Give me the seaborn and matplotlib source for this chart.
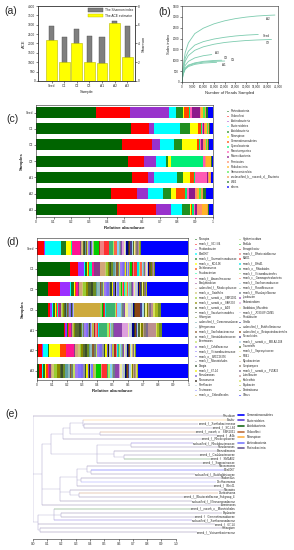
import numpy as np
import pandas as pd
import matplotlib
matplotlib.use("Agg")
import matplotlib.pyplot as plt
from matplotlib.patches import Patch
from matplotlib.lines import Line2D
import matplotlib.ticker as mticker
import seaborn as sns

# ---------------- data ----------------
samples = ["Seed", "O1", "O2", "O3", "A1", "A2", "A3"]

# (a) alpha diversity
ace = [2190, 995, 2010, 1010, 945, 3075, 1260]
shannon = [5.87, 4.66, 5.55, 4.80, 4.66, 6.36, 5.83]

# (b) rarefaction curves
rare_labels = ["A2", "Seed", "O2", "A3", "O3", "O1", "A1"]
reads_a2 = [0, 500, 1500, 3000, 6000, 10000, 15000, 20000, 25000, 30000, 35000, 40000, 43500]
sobs_a2 = [0, 700, 1350, 1800, 2230, 2480, 2680, 2820, 2920, 2990, 3040, 3070, 3085]
reads_seed = [0, 500, 1500, 3000, 6000, 10000, 15000, 20000, 25000, 30000, 35700]
sobs_seed = [0, 600, 1100, 1420, 1700, 1860, 1980, 2060, 2120, 2160, 2190]
reads_o2 = [0, 500, 1500, 3000, 6000, 10000, 15000, 20000, 25000, 30000, 35000, 41900]
sobs_o2 = [0, 520, 950, 1220, 1460, 1620, 1740, 1820, 1870, 1910, 1935, 1958]
reads_a3 = [0, 500, 1500, 3000, 6000, 10000, 13900]
sobs_a3 = [0, 430, 760, 950, 1110, 1210, 1264]
reads_o3 = [0, 500, 1500, 3000, 6000, 10000, 15000, 18600]
sobs_o3 = [0, 380, 640, 780, 880, 950, 990, 1002]
reads_o1 = [0, 500, 1500, 3000, 6000, 10000, 15000, 20000]
sobs_o1 = [0, 360, 610, 750, 850, 915, 950, 965]
reads_a1 = [0, 500, 1500, 3000, 6000, 10000, 16200]
sobs_a1 = [0, 340, 580, 710, 810, 870, 905]

# (c) phylum level
phyla = ["Proteobacteria", "Chloroflexi", "Actinobacteria", "Bacteroidetes", "Acidobacteria",
         "Nitrospirae", "Gemmatimonadetes", "Cyanobacteria", "Planctomycetes", "Patescibacteria",
         "Firmicutes", "Rokubacteria", "Verrucomicrobia", "unclassified_k__norank_d__Bacteria",
         "WS2", "others"]
c_seed = [0.34, 0.19, 0.225, 0.035, 0.04, 0.005, 0.03, 0.005, 0.01, 0.045, 0.01, 0.01, 0.01, 0.005, 0.01, 0.03]
c_o1 = [0.538, 0.104, 0.028, 0.145, 0.057, 0.042, 0.02, 0.005, 0.008, 0.005, 0.005, 0.01, 0.005, 0.005, 0.008, 0.015]
c_o2 = [0.489, 0.166, 0.047, 0.079, 0.043, 0.089, 0.008, 0.004, 0.008, 0.01, 0.01, 0.01, 0.004, 0.004, 0.01, 0.019]
c_o3 = [0.519, 0.092, 0.066, 0.058, 0.013, 0.013, 0.003, 0.18, 0.01, 0.004, 0.005, 0.025, 0.002, 0.002, 0.002, 0.006]
c_a1 = [0.542, 0.089, 0.034, 0.132, 0.032, 0.043, 0.019, 0.01, 0.066, 0.005, 0.005, 0.005, 0.003, 0.003, 0.002, 0.01]
c_a2 = [0.425, 0.145, 0.062, 0.085, 0.049, 0.026, 0.053, 0.008, 0.015, 0.03, 0.012, 0.012, 0.01, 0.01, 0.02, 0.038]
c_a3 = [0.46, 0.219, 0.083, 0.062, 0.047, 0.006, 0.006, 0.008, 0.01, 0.01, 0.025, 0.03, 0.003, 0.003, 0.008, 0.02]
phylum_colors = ["#006400", "#ff0000", "#9932cc", "#00ffff", "#1f8f1f", "#ffff00", "#ff4500", "#00ee76",
                 "#ff5ab4", "#8b1a8b", "#ff8c69", "#ffb428", "#4cee4c", "#ee9a49", "#237a23", "#0000ff"]

# (d) genus level (percent)
genera = [
    "Nitrospira", "norank_f__SC-I-84", "Rhodanobacter", "Ellin6067", "norank_f__Gemmatimonadaceae",
    "norank_c__KD4-96", "Dechloromonas", "Flavobacterium", "norank_f__Anaerolineaceae", "Bradyrhizobium",
    "unclassified_f__Rhodocyclaceae", "norank_o__Gaiellales", "norank_f__norank_o__SBR1031",
    "norank_f__norank_o__SAR202", "norank_f__norank_o__AD3", "norank_f__Saccharimonadales", "Haliangium",
    "unclassified_f__Comamonadaceae", "Sphingomonas", "norank_f__Xanthobacteraceae",
    "norank_f__Steroidobacteraceae", "Arenimonas", "norank_f__Caldilineaceae",
    "norank_f__Vicinamibacteraceae", "norank_o__IMCC26256", "norank_f__Microtrichales", "Dongia",
    "norank_f__67-14", "Pseudomonas", "Nitrosomonas", "Ramlibacter", "Terrimonas", "norank_o__Chloroflexales",
    "Hyphomicrobium", "Pirellula", "Ferruginibacter", "norank_f__Blastocatellaceae", "MND1",
    "norank_f__BIrii41", "norank_o__Rhizobiales", "norank_f__Vicinamibacterales", "norank_c__Gammaproteobacteria",
    "norank_f__Xanthomonadaceae", "norank_f__Roseiflexaceae", "norank_f__Rhodospirillaceae", "Lysobacter",
    "Pedomicrobium", "Candidatus_Microthrix", "norank_f__JG30-KF-CM45", "Rhodobacter", "Gaiella",
    "unclassified_f__Burkholderiaceae", "unclassified_o__Betaproteobacteriales", "Nocardioides",
    "norank_f__norank_c__MB-A2-108", "Turneriella", "norank_f__Saprospiraceae", "RB41", "Mycobacterium",
    "Streptomyces", "norank_f__norank_o__PLTA13", "Luteolibacter", "Kouleothrix", "Bryobacter",
    "Denitratisoma", "Others"]
d_seed = [0, 4.5, 0.5, 11, 3, 3, 0.5, 0.3, 5, 1,
          0.5, 0.5, 0.3, 0.3, 0.2, 0.5, 0.3, 0.5, 0.3, 0.5,
          0.3, 0.3, 0.5, 0.3, 0.3, 0.3, 0.5, 0.3, 0.3, 0.2,
          0.3, 0.3, 0.3,
          0.5, 3, 1, 2.5, 3, 0.5, 2, 1, 2, 1,
          1, 0.5, 1, 1, 0.5, 0.5, 0.5, 1, 0.5, 1,
          1, 1, 0.5, 0.5, 0.5, 0.5, 0.5, 0.5, 0.5, 0.5, 0.5, 0.5,
          31]
d_o1 = [22, 5, 4, 0.5, 1.5, 0.5, 1, 2, 1.5, 4,
        3, 1, 1, 0.5, 0.5, 1, 1, 1.5, 1, 1,
        0.5, 1, 1, 1, 0.5, 0.5, 0.5, 0.5, 0.5, 0.3,
        0.5, 0.5, 0.5,
        0.5, 1, 0.5, 1, 2, 1, 0.5, 0.5, 1, 1,
        0.5, 0.5, 0.5, 0.5, 0.5, 0.5, 0.3, 0.3, 0.3, 0.3,
        0.3, 0.3, 0.3, 0.3, 0.3, 0.3, 0.3, 0.3, 0.3, 0.3, 0.3, 0.3,
        22]
d_o2 = [7.5, 7.5, 7, 0.5, 2, 0.5, 0.5, 0.5, 1, 1,
        1.5, 1, 2, 1.5, 2, 1, 2, 1, 1.5, 1,
        1, 1, 1, 1, 1, 1, 1, 1, 1, 0.5,
        1, 1, 0.5,
        1, 0.5, 0.5, 0.5, 0.5, 0.5, 0.5, 1, 0.5, 1,
        1, 1, 0.5, 0.5, 1, 1, 1, 0.3, 0.5, 0.5,
        0.3, 0.5, 0.5, 0.5, 0.5, 0.5, 0.5, 0.3, 0.3, 0.3, 0.3, 0.3,
        27]
d_o3 = [7, 1.5, 1.5, 0.3, 1.5, 1, 0.5, 0.5, 0.5, 1.5,
        0.3, 0.5, 0.5, 1, 0.5, 0.3, 0.5, 0.3, 0.3, 0.5,
        0.5, 0.3, 0.3, 0.3, 0.3, 0.5, 0.3, 0.3, 0.3, 0.3,
        0.3, 0.3, 17,
        1.5, 0.5, 0.5, 0.5, 0.5, 0.5, 6, 1, 0.5, 2.5,
        1, 1, 0.5, 0.5, 2, 2, 1, 0.5, 1, 3,
        1.5, 1.5, 0.5, 1, 1, 0.5, 1, 0.5, 1, 1.5, 2, 2,
        18]
d_a1 = [18, 0.5, 1, 0.3, 0.5, 0.3, 0.3, 0.3, 1.5, 0.5,
        0.3, 0.5, 0.5, 0.5, 3, 1, 0.5, 0.3, 0.3, 0.5,
        0.3, 0.3, 1, 0.5, 1, 0.5, 0.5, 0.3, 0.5, 0.3,
        0.3, 0.5, 0.3,
        0.5, 0.5, 0.5, 1, 1, 0.5, 5.5, 1, 0.5, 1,
        1, 1, 5, 4, 1, 1, 1, 1, 1, 0.5,
        0.5, 1, 1, 1, 1, 1, 1, 1.5, 5, 1, 1.5, 2,
        17]
d_a2 = [0.5, 3, 0.5, 3, 1, 7, 4, 0.5, 5, 1,
        1.5, 1.5, 1, 1, 1.5, 1.5, 1, 1, 1, 1.5,
        1, 1, 1, 1, 1, 1.5, 1, 1, 1, 0.5,
        1, 1, 0.5,
        0.5, 0.5, 1, 0.5, 0.5, 0.5, 0.5, 0.5, 0.5, 0.5,
        0.5, 0.5, 0.5, 0.5, 0.5, 0.5, 0.5, 1, 0.5, 0.5,
        0.5, 0.5, 0.3, 0.3, 0.3, 0.3, 0.3, 0.3, 0.3, 0.3, 0.3, 0.3,
        35]
d_a3 = [1, 2, 0.5, 0.5, 1.5, 0.5, 1, 0.5, 0.5, 1,
        1, 1.5, 2, 1.5, 1, 1, 1.5, 2, 1, 1,
        1, 1.5, 2, 2, 1.5, 1, 1, 1, 1, 0.5,
        1, 1, 1,
        1, 3, 0.5, 0.5, 3, 0.5, 0.5, 1, 0.5, 1,
        1, 1, 3, 0.5, 1, 1, 1, 1, 0.5, 1,
        0.5, 1, 0.5, 0.5, 0.5, 0.5, 0.5, 0.5, 0.5, 0.5, 0.5, 0.5,
        33]
genus_colors = [
    "#006400", "#ff0000", "#9b30ff", "#00ffff", "#1e7b1e", "#ffff00", "#ff4500", "#00fa9a", "#ff1493", "#8b3a8b",
    "#d2a679", "#cdc673", "#9acd32", "#8b8b00", "#556b2f", "#3b4d2b", "#6b8e23", "#5f9ea0", "#8fbcbc", "#8b5a2b",
    "#708070", "#c0e060", "#9f79ee", "#836fff", "#7b68ee", "#9090a8", "#2f4f2f", "#eeee00", "#6a5acd", "#2b1d0e",
    "#b0c4de", "#7a7aff", "#cdaa3d",
    "#a2cd5a", "#00cd00", "#b22222", "#f08080", "#ff3030", "#00e5ee", "#3cb371", "#a0ee60", "#ff6347", "#87cefa",
    "#8fbc8f", "#6c7b8b", "#8e44ad", "#dda0dd", "#eeeea0", "#c6c6ee", "#b4c8b4", "#00008b", "#2f3b1f", "#8b4513",
    "#483d8b", "#a4d3ee", "#556b2f", "#eeee88", "#808000", "#c4a484", "#8b7d6b", "#7d6b8d", "#bc8f8f", "#d4e157",
    "#a8b820", "#6b8e23", "#0000ff"]

# (e) tree: [node distance, children...], leaves are indices into tree_leaves
tree_leaves = [
    "Rhizobium", "Ensifer", "norank_f__Xanthobacteraceae", "norank_f__SC-I-84", "norank_f__norank_o__SBR1031",
    "norank_f__A4b", "norank_f__Rhodocyclaceae", "unclassified_f__Rhodobacteraceae", "Pseudomonas",
    "Brevundimonas", "norank_f__Caulobacteraceae", "norank_f__SM1A02", "norank_f__Saprospiraceae",
    "Nitrosomonas", "Ellin6067", "unclassified_f__Burkholderiaceae", "Thiobacillus", "Dechloromonas",
    "norank_f__BIrii41", "Nitrospira", "Denitratisoma", "norank_f__Blastocatellaceae_Subgroup_4",
    "unclassified_f__Nitrosomonadaceae", "Arenimonas", "norank_f__norank_o__Microtrichales", "Bryobacter",
    "norank_f__Gemmatimonadaceae", "unclassified_f__Xanthomonadaceae", "norank_f__67-14", "Haliangium",
    "norank_f__Vicinamibacteraceae"]
tree = [0.0,
        0,
        [0.065,
         [0.13,
          [0.21,
           [0.26, [0.35, 1, [0.36, 2, 3]], [0.47, 4, 5]],
           6],
          [0.45, [0.69, 7, 8], [0.57, 9, [0.64, 10, 11]], 12]],
         [0.19,
          [0.31, [0.38, 13, [0.41, 14, 15]], [0.34, 16, 17], 18],
          [0.26, 19, [0.32, 20, 21]],
          22],
         23],
        [0.035, [0.15, 24, [0.2, 25, 26], 27], 28, [0.05, 29, 30]]]
tree_phyla = ["Gemmatimonadetes", "Bacteroidetes", "Acidobacteria", "Chloroflexi", "Nitrospirae",
              "Actinobacteria", "Proteobacteria"]
tree_phylum_colors = ["#0000ff", "#5b3fd6", "#1b6b1b", "#c0703c", "#ffb347", "#7c7cff", "#6b5b95"]
leaf_phylum = [6, 4, 6, 6, 3, 6, 6, 1, 6, 6, 6, 2, 6, 6, 0, 6, 6, 5, 6, 6, 3, 6, 6, 6, 2, 6, 6, 1, 6, 6, 6]

# ---------------- style ----------------
sns.set_style("ticks")
plt.rcParams["font.family"] = ["Liberation Sans", "DejaVu Sans"]
plt.rcParams["axes.linewidth"] = 0.4
for k in ["xtick", "ytick"]:
    plt.rcParams[k + ".major.width"] = 0.4
    plt.rcParams[k + ".major.size"] = 1.2
    plt.rcParams[k + ".major.pad"] = 0.8
    plt.rcParams[k + ".labelsize"] = 2.3
plt.rcParams["axes.labelsize"] = 3
plt.rcParams["axes.labelpad"] = 1.5

fig = plt.figure(figsize=(2.94, 5.5), dpi=100)

# ---------------- (a) ----------------
ax_a = fig.add_axes([0.129, 0.853, 0.33, 0.136])
sns.barplot(x=samples, y=shannon, color="#7f7f7f", width=0.42, saturation=1,
            edgecolor="#4d4d4d", linewidth=0.3, ax=ax_a)
ax_a2 = ax_a.twinx()
ax_a2.bar(range(len(samples)), ace, width=0.85, color="#ffff00", edgecolor="#b8b800", linewidth=0.4)
ax_a.set_ylim(0, 8)
ax_a.set_yticks([0, 2, 4, 6, 8])
ax_a.yaxis.tick_right()
ax_a.yaxis.set_label_position("right")
ax_a.set_ylabel("Shannon")
ax_a.set_xlabel("Sample")
ax_a2.set_ylim(0, 4000)
ax_a2.set_yticks(range(0, 4001, 500))
ax_a2.yaxis.tick_left()
ax_a2.yaxis.set_label_position("left")
ax_a2.set_ylabel("ACE")
ax_a.set_xlim(-1.08, 6.6)
ax_a2.legend(handles=[Patch(facecolor="#7f7f7f", edgecolor="#4d4d4d", lw=0.3, label="The Shannon index"),
                      Patch(facecolor="#ffff00", edgecolor="#b8b800", lw=0.3, label="The ACE estimator")],
             loc="upper right", fontsize=2.3, frameon=False, handlelength=4.5, handleheight=1.4,
             borderaxespad=0.2, labelspacing=0.5, handletextpad=0.6)

# ---------------- (b) ----------------
ax_b = fig.add_axes([0.619, 0.851, 0.327, 0.138])
rare_reads = [reads_a2, reads_seed, reads_o2, reads_a3, reads_o3, reads_o1, reads_a1]
rare_sobs = [sobs_a2, sobs_seed, sobs_o2, sobs_a3, sobs_o3, sobs_o1, sobs_a1]
rare_df = pd.concat([pd.DataFrame({"sample": s, "reads": r, "sobs": v})
                     for s, r, v in zip(rare_labels, rare_reads, rare_sobs)])
sns.lineplot(data=rare_df, x="reads", y="sobs", units="sample", estimator=None,
             color="#7ccbae", lw=0.6, ax=ax_b)
label_offsets = [(-5, -3), (6, -1), (-3, -2.6), (3.8, 1.1), (3.1, 1.6), (6, 0.7), (5.4, -1.9)]
for s, r, v, off in zip(rare_labels, rare_reads, rare_sobs, label_offsets):
    ax_b.annotate(s, (r[-1], v[-1]), xytext=off, textcoords="offset points",
                  fontsize=2.2, ha="center", va="center")
ax_b.set_xlim(0, 45000)
ax_b.set_ylim(0, 3500)
ax_b.set_xticks(range(0, 45001, 5000))
ax_b.set_yticks(range(0, 3501, 500))
ax_b.xaxis.set_major_formatter(mticker.StrMethodFormatter("{x:,.0f}"))
ax_b.set_xlabel("Number of Reads Sampled")
ax_b.set_ylabel("Sobs index")
ax_b.tick_params(labelsize=2.1)

# ---------------- (c) ----------------
ax_c = fig.add_axes([0.122, 0.605, 0.602, 0.204])
df_c = pd.DataFrame([c_seed, c_o1, c_o2, c_o3, c_a1, c_a2, c_a3], index=samples, columns=phyla)
df_c = df_c.div(df_c.sum(axis=1), axis=0)
df_c.plot.barh(stacked=True, ax=ax_c, color=phylum_colors, width=0.68, legend=False, linewidth=0)
ax_c.set_ylim(6.46, -0.46)
ax_c.set_xlim(0, 1)
ax_c.set_xticks(np.arange(0, 1.01, 0.1))
ax_c.xaxis.set_major_formatter(mticker.FormatStrFormatter("%g"))
ax_c.set_xlabel("Relative abundance", fontweight="bold", fontsize=3.2)
ax_c.set_ylabel("Samples", fontweight="bold", fontsize=3.2)
fig.legend(handles=[Patch(facecolor=c, label=n) for n, c in zip(phyla, phylum_colors)],
           loc="upper left", bbox_to_anchor=(226 / 294, 1 - 109 / 550), fontsize=2.1, frameon=False,
           handlelength=1.0, handleheight=1.0, labelspacing=0.36, handletextpad=0.6,
           borderaxespad=0, borderpad=0)

# ---------------- (d) ----------------
ax_d = fig.add_axes([0.126, 0.309, 0.514, 0.258])
df_d = pd.DataFrame([d_seed, d_o1, d_o2, d_o3, d_a1, d_a2, d_a3], index=samples, columns=genera)
df_d = df_d.div(df_d.sum(axis=1), axis=0)
df_d.plot.barh(stacked=True, ax=ax_d, color=genus_colors, width=0.68, legend=False, linewidth=0)
ax_d.set_ylim(6.45, -0.5)
ax_d.set_xlim(0, 1)
ax_d.set_xticks(np.arange(0, 1.01, 0.1))
ax_d.xaxis.set_major_formatter(mticker.FormatStrFormatter("%g"))
ax_d.set_xlabel("Relative abundance", fontweight="bold", fontsize=3.2)
ax_d.set_ylabel("Samples", fontweight="bold", fontsize=3.2)
genus_handles = [Patch(facecolor=c, label=n) for n, c in zip(genera, genus_colors)]
for col, x0 in [(0, 194), (1, 238)]:
    fig.legend(handles=genus_handles[col * 33:(col + 1) * 33], loc="upper left",
               bbox_to_anchor=(x0 / 294, 1 - 237 / 550), fontsize=1.9, frameon=False,
               handlelength=1.1, handleheight=1.1, labelspacing=0.33, handletextpad=0.7,
               borderaxespad=0, borderpad=0)

# ---------------- (e) ----------------
ax_e = fig.add_axes([0.112, 0.02, 0.704, 0.229])
tip_x = 1.42
branch_color = "#a9a2cc"


def draw_clade(node):
    if isinstance(node, int):
        return tip_x, float(node), True
    h = node[0]
    ys = []
    for child in node[1:]:
        cx, cy, leaf = draw_clade(child)
        col = tree_phylum_colors[leaf_phylum[child]] if leaf else branch_color
        ax_e.plot([h, cx], [cy, cy], color=col, lw=0.35, alpha=0.75, solid_capstyle="butt")
        ys.append(cy)
    ax_e.plot([h, h], [min(ys), max(ys)], color=branch_color, lw=0.35)
    return h, (min(ys) + max(ys)) / 2, False


draw_clade(tree)
for i, name in enumerate(tree_leaves):
    ax_e.text(tip_x, i, name, fontsize=2.0, ha="right", va="center",
              bbox=dict(facecolor="white", edgecolor="none", pad=0.05))
ax_e.set_xlim(0, 1.45)
ax_e.set_ylim(31.8, -0.8)
ax_e.set_xticks(np.arange(0, 1.01, 0.1))
ax_e.xaxis.set_major_formatter(mticker.FormatStrFormatter("%.1f"))
ax_e.set_yticks([])
for s in ["top", "right", "left"]:
    ax_e.spines[s].set_visible(False)
ax_e.spines["bottom"].set_bounds(0, 1)
fig.legend(handles=[Line2D([], [], color=c, lw=1.2, label=n) for n, c in zip(tree_phyla, tree_phylum_colors)],
           loc="upper left", bbox_to_anchor=(238 / 294, 1 - 413 / 550), fontsize=2.2, frameon=False,
           handlelength=2.0, labelspacing=0.5, handletextpad=1.0, borderaxespad=0, borderpad=0)

# ---------------- panel labels ----------------
for lab, x, y in [("(a)", 4, 11), ("(b)", 158, 12), ("(c)", 6, 119), ("(d)", 6, 242), ("(e)", 5, 414)]:
    fig.text(x / 294, 1 - y / 550, lab, fontsize=7.5, ha="left", va="center")

fig.savefig("out.png", dpi=100)
